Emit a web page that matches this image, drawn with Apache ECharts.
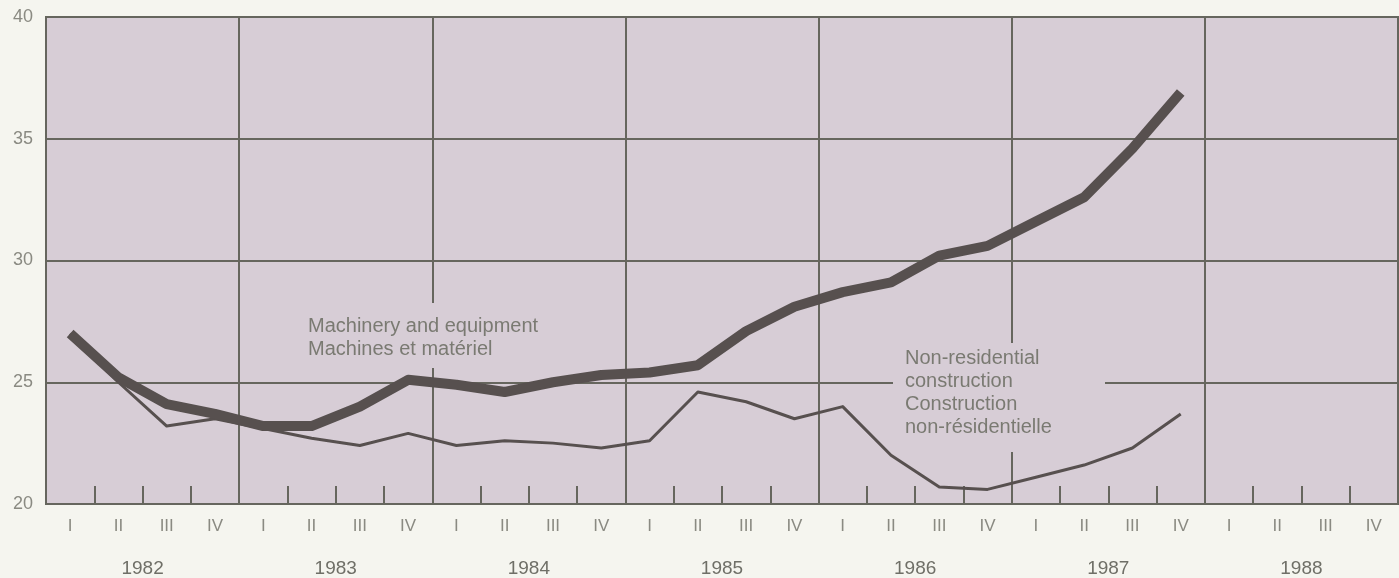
<!DOCTYPE html>
<html>
<head>
<meta charset="utf-8">
<script src="https://cdn.jsdelivr.net/npm/echarts@6/dist/echarts.min.js"></script>
<style>
html,body{margin:0;padding:0;background:#f5f5ef;}
#chart{width:1399px;height:578px;}
</style>
</head>
<body>
<div id="chart"></div>
<script>
// Quarter tick labels (1982 I .. 1988 IV)
const quarterLabels = ['I','II','III','IV','I','II','III','IV','I','II','III','IV','I','II','III','IV','I','II','III','IV','I','II','III','IV','I','II','III','IV'];
// Year labels
const years = ['1982','1983','1984','1985','1986','1987','1988'];
// Machinery and equipment (quarterly, 1982 I .. 1987 IV)
const machinery = [27.0,25.2,24.1,23.7,23.2,23.2,24.0,25.1,24.9,24.6,25.0,25.3,25.4,25.7,27.1,28.1,28.7,29.1,30.2,30.6,31.6,32.6,34.6,36.9];
// Non-residential construction (quarterly, 1982 I .. 1987 IV)
const nonResidential = [27.0,25.0,23.2,23.5,23.1,22.7,22.4,22.9,22.4,22.6,22.5,22.3,22.6,24.6,24.2,23.5,24.0,22.0,20.7,20.6,21.1,21.6,22.3,23.7];
// Y axis
const yMin = 20, yMax = 40, yStep = 5;

const gridCol = '#66665e';
const textCol = '#8a8a82';
const plotBg = '#d7cdd6';
const font = '"Liberation Sans", Arial, sans-serif';

const chart = echarts.init(document.getElementById('chart'));
chart.setOption({
  backgroundColor: '#f5f5ef',
  animation: false,
  grid: {left: 46, right: 1, top: 17, bottom: 71, show: true, backgroundColor: plotBg, borderColor: gridCol, borderWidth: 2},
  xAxis: [{
    type: 'category', data: quarterLabels, boundaryGap: true, position: 'bottom',
    axisLine: {show: true, lineStyle: {color: gridCol, width: 2}},
    axisTick: {show: true, inside: true, length: 18, interval: 0, lineStyle: {color: gridCol, width: 2}},
    axisLabel: {interval: 0, color: textCol, fontSize: 17, fontFamily: font, margin: 14},
    splitLine: {show: false}
  }, {
    type: 'category', data: years, boundaryGap: true, position: 'bottom',
    axisLine: {show: false}, axisTick: {show: false},
    axisLabel: {interval: 0, color: '#6f6f67', fontSize: 19, fontFamily: font, margin: 55},
    splitLine: {show: true, interval: 0, lineStyle: {color: gridCol, width: 2}}
  }],
  yAxis: {
    type: 'value', min: yMin, max: yMax, interval: yStep,
    axisLine: {show: false}, axisTick: {show: false},
    axisLabel: {color: textCol, fontSize: 18, fontFamily: font, margin: 13},
    splitLine: {show: true, lineStyle: {color: gridCol, width: 2}}
  },
  graphic: [
    {type: 'rect', z: 1, shape: {x: 300, y: 303, width: 260, height: 65}, style: {fill: plotBg}},
    {type: 'text', z: 1, style: {x: 308, y: 315, text: 'Machinery and equipment\nMachines et matériel', fill: '#7a7a72', font: '20px ' + font, lineHeight: 23}},
    {type: 'rect', z: 1, shape: {x: 893, y: 343, width: 212, height: 109}, style: {fill: plotBg}},
    {type: 'text', z: 1, style: {x: 905, y: 347, text: 'Non-residential\nconstruction\nConstruction\nnon-résidentielle', fill: '#7a7a72', font: '20px ' + font, lineHeight: 23}}
  ],
  series: [{
    name: 'Machinery and equipment', type: 'line', xAxisIndex: 0, data: machinery,
    symbol: 'none', lineStyle: {color: '#57504f', width: 10, cap: 'butt', join: 'round'}, z: 3
  }, {
    name: 'Non-residential construction', type: 'line', xAxisIndex: 0, data: nonResidential,
    symbol: 'none', lineStyle: {color: '#57504f', width: 3, join: 'round'}, z: 2
  }]
});
</script>
</body>
</html>
